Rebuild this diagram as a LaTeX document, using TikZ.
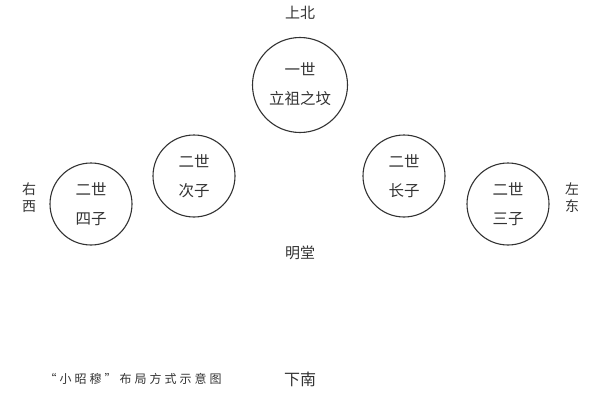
\documentclass[tikz,border=0pt]{standalone}
\usepackage{fontspec}
\newfontfamily\cjk{Noto Sans CJK SC}
\newfontfamily\cjkspaced[LetterSpace=25]{Noto Sans CJK SC}
\definecolor{ink}{HTML}{333333}
\begin{document}
\begin{tikzpicture}[x=1pt,y=1pt,
  grave/.style={circle,draw=ink,line width=1.1pt,inner sep=0pt},
  lbl/.style={text=ink,font=\cjk\fontsize{15}{18}\selectfont,align=center,inner sep=0pt},
  inlbl/.style={text=ink,font=\cjk\fontsize{15.5}{29}\selectfont,align=center,inner sep=0pt},
  side/.style={text=ink,font=\cjk\fontsize{14}{17}\selectfont,align=center,inner sep=0pt}]
\useasboundingbox (0,0) rectangle (600,400);
\node[lbl] (north) at (300,387) {上北};
\node[grave,minimum size=95pt] (g1) at (300,315) {};
\node[inlbl] (t1) at (300,316) {一世\\立祖之坟};
\node[grave,minimum size=82pt] (g2) at (194,224) {};
\node[inlbl] (t2) at (194,224) {二世\\次子};
\node[grave,minimum size=82pt] (g4) at (91,196) {};
\node[inlbl] (t4) at (91,196) {二世\\四子};
\node[grave,minimum size=82pt] (gl) at (404,224) {};
\node[inlbl] (tl) at (404,224) {二世\\长子};
\node[grave,minimum size=82pt] (g3) at (508,196) {};
\node[inlbl] (t3) at (508,196) {二世\\三子};
\node[side] (west) at (29,202) {右\\西};
\begin{scope}
\clip (540,150) rectangle (577,250);
\node[side] (east) at (572,202) {左\\东};
\end{scope}
\node[lbl] (hall) at (300,147) {明堂};
\node[lbl,font=\cjk\fontsize{16}{18}\selectfont] (south) at (300,21) {下南};
\node[text=ink,font=\cjkspaced\fontsize{12}{14}\selectfont,inner sep=0pt] (cap) at (133,21) {“小昭穆”布局方式示意图};
\end{tikzpicture}
\end{document}
